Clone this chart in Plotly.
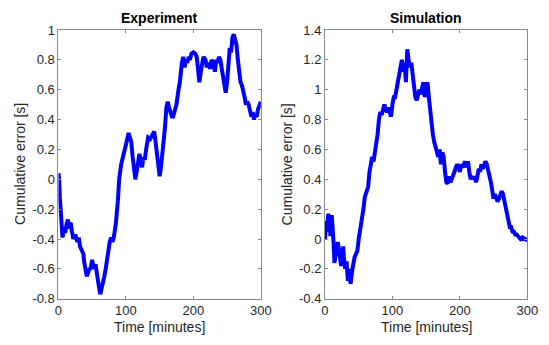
import plotly.graph_objects as go

# Experiment: cumulative timing error over the run
exp_t = [0, 1, 2, 3, 5, 6, 8, 10, 12, 14, 16, 18, 20, 22, 25, 28, 30, 32, 35, 37, 38, 40, 42,
         45, 48, 50, 52, 55, 57, 60, 62, 65, 68, 70, 73, 76, 78, 80, 82, 85, 88, 90, 93, 96,
         99, 101, 104, 106, 108, 110, 112, 114, 116, 118, 120, 122, 124, 126, 128, 130, 133,
         136, 139, 142, 144, 146, 148, 150, 152, 155, 158, 160, 162, 164, 166, 168, 170, 172,
         175, 178, 180, 183, 185, 187, 189, 191, 193, 195, 197, 200, 203, 205, 207, 209, 211,
         213, 215, 218, 220, 222, 225, 227, 230, 232, 234, 236, 238, 240, 242, 244, 246, 248,
         250, 252, 254, 256, 258, 260, 262, 264, 266, 268, 270, 272, 274, 276, 278, 280, 282,
         284, 286, 288, 290, 292, 294, 296, 298, 300]
exp_err = [0.04, 0.0, -0.12, -0.22, -0.35, -0.39, -0.33, -0.36, -0.3, -0.27, -0.33, -0.29,
           -0.35, -0.4, -0.37, -0.42, -0.39, -0.45, -0.48, -0.5, -0.55, -0.6, -0.65, -0.61,
           -0.59, -0.54, -0.6, -0.57, -0.65, -0.72, -0.77, -0.72, -0.65, -0.6, -0.5, -0.42,
           -0.39, -0.42, -0.39, -0.3, -0.15, 0.0, 0.1, 0.15, 0.2, 0.25, 0.31, 0.28, 0.25, 0.15,
           0.05, 0.0, 0.05, 0.12, 0.17, 0.12, 0.08, 0.15, 0.13, 0.2, 0.28, 0.27, 0.3, 0.32, 0.25,
           0.15, 0.05, 0.02, 0.08, 0.2, 0.35, 0.48, 0.52, 0.48, 0.45, 0.42, 0.42, 0.45, 0.5, 0.6,
           0.65, 0.78, 0.82, 0.75, 0.8, 0.78, 0.82, 0.8, 0.84, 0.85, 0.84, 0.82, 0.75, 0.65,
           0.72, 0.78, 0.82, 0.8, 0.75, 0.78, 0.74, 0.8, 0.77, 0.72, 0.8, 0.78, 0.82, 0.8, 0.75,
           0.7, 0.62, 0.58, 0.65, 0.78, 0.88, 0.85, 0.95, 0.97, 0.93, 0.9, 0.8, 0.7, 0.65, 0.63,
           0.6, 0.55, 0.5, 0.52, 0.5, 0.45, 0.42, 0.45, 0.4, 0.43, 0.42, 0.47, 0.5, 0.52]

# Simulation: cumulative timing error over the run
sim_t = [0, 1, 2, 3, 4, 5, 6, 7, 8, 9, 10, 11, 12, 13, 14, 16, 18, 19, 21, 22, 23, 24, 26,
         27, 28, 30, 32, 33, 34, 35, 37, 38, 40, 42, 44, 46, 48, 50, 52, 54, 57, 59, 62, 64,
         66, 68, 70, 72, 74, 76, 78, 80, 82, 84, 86, 88, 90, 92, 94, 96, 98, 100, 102, 104,
         106, 108, 110, 112, 114, 116, 118, 120, 122, 124, 126, 128, 130, 132, 134, 136, 138,
         140, 142, 144, 146, 148, 150, 152, 154, 156, 158, 160, 162, 164, 166, 168, 170, 172,
         174, 176, 178, 180, 182, 184, 186, 188, 190, 192, 194, 196, 198, 200, 202, 204, 206,
         208, 210, 212, 214, 216, 218, 220, 222, 224, 226, 228, 230, 232, 234, 236, 238, 240,
         242, 244, 246, 248, 250, 252, 254, 256, 258, 260, 262, 264, 266, 268, 270, 272, 274,
         276, 278, 280, 282, 284, 286, 288, 290, 293, 296, 300]
sim_err = [0.0, 0.05, 0.12, 0.08, 0.15, 0.17, 0.05, 0.1, 0.02, 0.12, 0.16, 0.1, 0.05, -0.05,
           -0.16, -0.1, -0.05, -0.02, -0.08, -0.12, -0.15, -0.18, -0.1, -0.05, -0.12, -0.2,
           -0.15, -0.25, -0.28, -0.2, -0.25, -0.3, -0.22, -0.15, -0.12, -0.1, -0.08, 0.0, 0.05,
           0.1, 0.2, 0.28, 0.32, 0.35, 0.45, 0.5, 0.55, 0.52, 0.58, 0.6, 0.7, 0.8, 0.85, 0.83,
           0.87, 0.9, 0.87, 0.85, 0.88, 0.84, 0.82, 0.9, 0.95, 0.95, 1.0, 1.05, 1.1, 1.15, 1.2,
           1.12, 1.18, 1.05, 1.27, 1.2, 1.15, 1.18, 1.1, 1.0, 0.95, 0.93, 0.98, 1.0, 0.97, 1.02,
           1.05, 0.95, 1.0, 1.05, 0.95, 0.85, 0.8, 0.7, 0.65, 0.62, 0.6, 0.55, 0.6, 0.5, 0.58,
           0.55, 0.45, 0.38, 0.37, 0.42, 0.38, 0.4, 0.42, 0.45, 0.48, 0.5, 0.48, 0.45, 0.5, 0.48,
           0.5, 0.52, 0.48, 0.52, 0.45, 0.4, 0.42, 0.4, 0.42, 0.38, 0.42, 0.47, 0.45, 0.5, 0.47,
           0.5, 0.52, 0.5, 0.47, 0.42, 0.38, 0.33, 0.27, 0.3, 0.28, 0.25, 0.27, 0.3, 0.32, 0.3,
           0.25, 0.2, 0.15, 0.1, 0.08, 0.08, 0.05, 0.05, 0.03, 0.03, 0.02, 0.02, 0.0, 0.01,
           0.0, -0.01]

panel_titles = ["Experiment", "Simulation"]
x_label = "Time [minutes]"
y_label = "Cumulative error [s]"
x_ticks = [0, 100, 200, 300]
exp_yticks = [-0.8, -0.6, -0.4, -0.2, 0, 0.2, 0.4, 0.6, 0.8, 1]
sim_yticks = [-0.4, -0.2, 0, 0.2, 0.4, 0.6, 0.8, 1, 1.2, 1.4]

BLUE = "#0000ff"
AXIS = "#8a8a8a"
TEXT = "#262626"
FONT = "Liberation Sans, Arial, sans-serif"

fig = go.Figure()
fig.add_trace(go.Scatter(x=exp_t, y=exp_err, mode="lines", xaxis="x", yaxis="y",
                         line=dict(color=BLUE, width=4), showlegend=False))
fig.add_trace(go.Scatter(x=sim_t, y=sim_err, mode="lines", xaxis="x2", yaxis="y2",
                         line=dict(color=BLUE, width=4), showlegend=False))

y_dom = [1 - 305 / 345, 1 - 24 / 345]
left_dom = [56 / 549, 264 / 549]
right_dom = [330 / 549, 538 / 549]

axis_common = dict(showgrid=False, zeroline=False, showline=True, linecolor=AXIS,
                   linewidth=1, mirror="allticks", ticks="inside", ticklen=3,
                   tickcolor=AXIS, tickfont=dict(family=FONT, size=13, color=TEXT))


def fmt(v):
    return ("%g" % v)


fig.update_layout(
    width=549, height=345, margin=dict(l=0, r=0, t=0, b=0),
    paper_bgcolor="white", plot_bgcolor="white",
    xaxis=dict(domain=left_dom, anchor="y", range=[0, 300], tickvals=x_ticks,
               ticktext=[fmt(v) for v in x_ticks], **axis_common),
    yaxis=dict(domain=y_dom, anchor="x", range=[-0.8, 1], tickvals=exp_yticks,
               ticktext=[fmt(v) for v in exp_yticks], **axis_common),
    xaxis2=dict(domain=right_dom, anchor="y2", range=[0, 300], tickvals=x_ticks,
                ticktext=[fmt(v) for v in x_ticks], **axis_common),
    yaxis2=dict(domain=y_dom, anchor="x2", range=[-0.4, 1.4], tickvals=sim_yticks,
                ticktext=[fmt(v) for v in sim_yticks], **axis_common),
)

annotations = []
for dom, title in zip([left_dom, right_dom], panel_titles):
    cx = (dom[0] + dom[1]) / 2
    annotations.append(dict(text="<b>%s</b>" % title, x=cx, y=1 - 11 / 345, xref="paper",
                            yref="paper", showarrow=False, xanchor="center", yanchor="middle",
                            font=dict(family=FONT, size=14, color="black")))
    annotations.append(dict(text=x_label, x=cx, y=1 - 335 / 345, xref="paper", yref="paper",
                            showarrow=False, xanchor="center", yanchor="middle",
                            font=dict(family=FONT, size=14, color=TEXT)))
for xpx in [17, 291]:
    annotations.append(dict(text=y_label, x=xpx / 549, y=(y_dom[0] + y_dom[1]) / 2,
                            xref="paper", yref="paper", showarrow=False, textangle=-90,
                            xanchor="center", yanchor="middle",
                            font=dict(family=FONT, size=14, color=TEXT)))
fig.update_layout(annotations=annotations)

fig.write_html("out.html")
